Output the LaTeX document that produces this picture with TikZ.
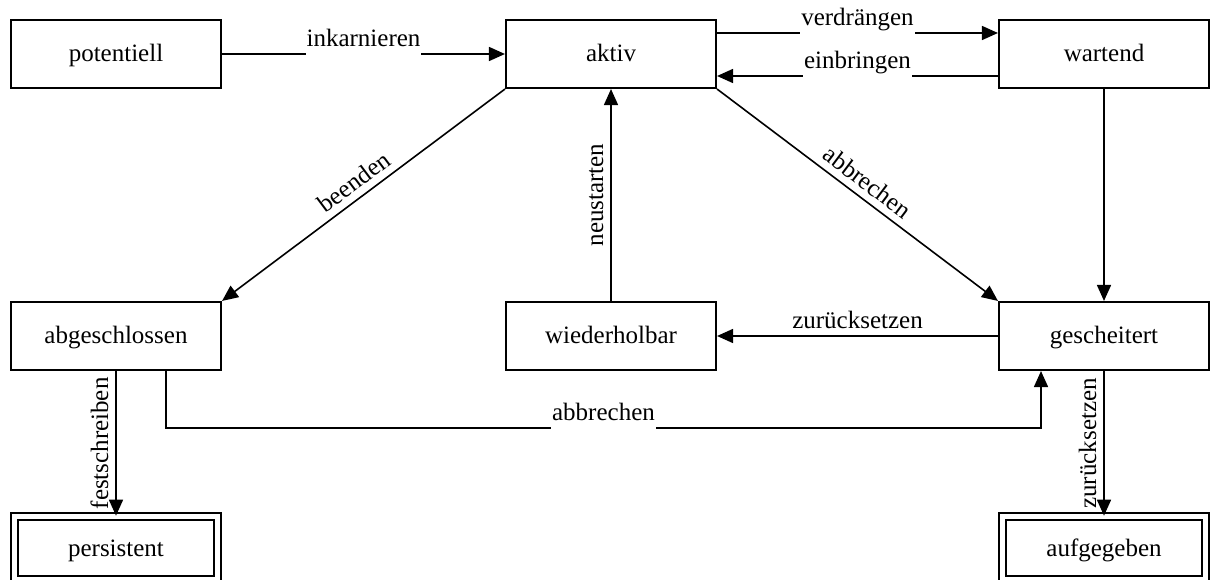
\documentclass[tikz,border=0pt]{standalone}
\usepackage{fontspec}
\setmainfont{Liberation Serif}
\usetikzlibrary{arrows.meta}
\begin{document}
\begin{tikzpicture}[x=1pt,y=-1pt,
  every node/.style={font=\fontsize{25}{30}\selectfont},
  state/.style={draw, line width=1.6pt, minimum width=210.5pt, minimum height=68.5pt, inner sep=0pt, text height=17pt, text depth=1pt},
  final/.style={draw, line width=1.6pt, double, double distance=5.4pt, minimum width=203.5pt, minimum height=63pt, inner sep=0pt, text height=17pt, text depth=1pt},
  arr/.style={line width=1.6pt, -{Triangle[length=16pt,width=14pt]}},
  lbl/.style={inner sep=1pt, text height=17pt, text depth=6pt, anchor=south},
  lblw/.style={lbl, fill=white, text depth=8pt, yshift=-2pt}
]
\useasboundingbox (0,0) rectangle (1211,580);
\node[state] (pot) at (116,54) {potentiell};
\node[state] (akt) at (611,54) {aktiv};
\node[state] (war) at (1104,54) {wartend};
\node[state] (abg) at (116,336) {abgeschlossen};
\node[state] (wie) at (611,336) {wiederholbar};
\node[state] (ges) at (1104,336) {gescheitert};
\node[final] (per) at (116,548) {persistent};
\node[final] (auf) at (1104,548) {aufgegeben};

\draw[arr] (pot) -- node[lblw]{inkarnieren} (akt);
\draw[arr] ([yshift=21pt]akt.east) -- node[lblw]{verdrängen} ([yshift=21pt]war.west);
\draw[arr] ([yshift=-22pt]war.west) -- node[lblw]{einbringen} ([yshift=-22pt]akt.east);
\draw[arr] (akt.south west) -- node[lbl, sloped]{beenden} (abg.north east);
\draw[arr] (akt.south east) -- node[lbl, sloped]{abbrechen} (ges.north west);
\draw[arr] (wie) -- node[lbl, rotate=90]{neustarten} (akt);
\draw[arr] (ges) -- node[lbl]{zurücksetzen} (wie);
\draw[arr] (war) -- (ges);
\draw[arr] ([xshift=50pt]abg.south) -- ++(0,57) -| node[lblw, pos=0.25]{abbrechen} ([xshift=-63pt]ges.south);
\draw[arr] (abg) -- node[lbl, rotate=90]{festschreiben} (per);
\draw[arr] (ges) -- node[lbl, rotate=90]{zurücksetzen} (auf);
\end{tikzpicture}
\end{document}
